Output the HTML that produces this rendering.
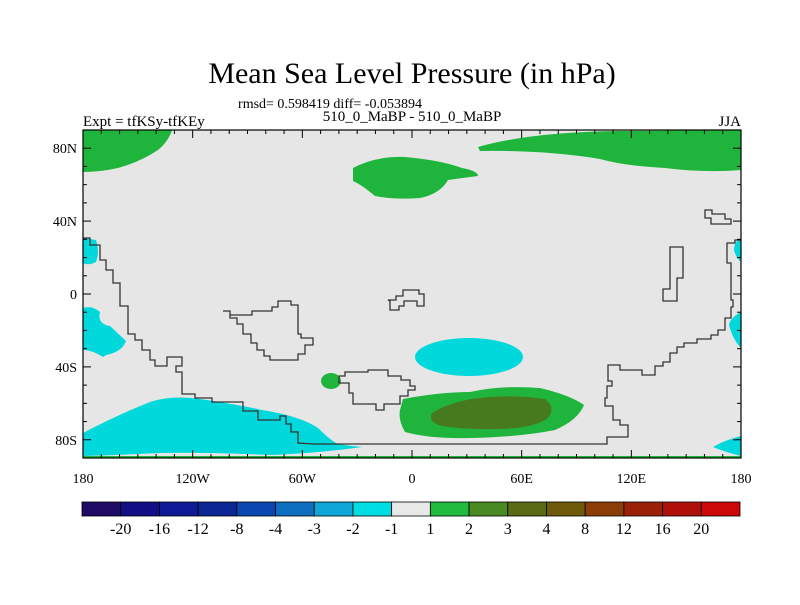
<!DOCTYPE html>
<html><head><meta charset="utf-8">
<style>
body{margin:0;background:#fff;}
svg text{font-family:"Liberation Serif",serif;fill:#000;}
</style></head>
<body>
<svg id="chart" width="800" height="600" viewBox="0 0 800 600">
<text x="412" y="83" font-size="30" text-anchor="middle">Mean Sea Level Pressure (in hPa)</text>
<text x="330" y="108" font-size="14" text-anchor="middle">rmsd= 0.598419 diff= -0.053894</text>
<text x="83" y="126" font-size="15">Expt = tfKSy-tfKEy</text>
<text x="412" y="121" font-size="15" text-anchor="middle">510_0_MaBP - 510_0_MaBP</text>
<text x="741" y="126" font-size="15" text-anchor="end">JJA</text>
<defs><clipPath id="pc"><rect x="83" y="130" width="658" height="328"/></clipPath></defs>
<g clip-path="url(#pc)">
<rect x="83" y="130" width="658" height="328" fill="#e6e6e6"/>
<g fill="#00d8dc">
<path d="M83,238 L96,240 Q100,252 96,262 Q88,266 83,263 Z"/>
<path d="M83,308 Q92,305 100,312 Q97,324 110,326 L126,341 Q122,352 106,355 L103,357 Q92,350 83,350 Z"/>
<path d="M83,433 Q115,416 150,402 Q172,395 200,399 Q240,405 262,410 Q300,416 318,428 Q330,440 338,444 Q350,446 362,447 Q320,453 270,455 Q200,452 160,453 Q120,455 83,456 Z"/>
<ellipse cx="469" cy="357" rx="54" ry="19"/>
<path d="M741,238 Q734,242 734,250 Q736,258 741,262 Z"/>
<path d="M741,312 Q730,318 729,325 Q733,340 741,348 Z"/>
<path d="M741,436 Q725,440 713,447 Q725,452 741,456 Z"/>
</g>
<g fill="#1fb53c">
<path d="M83,130 L172,130 Q168,142 158,150 Q140,162 118,168 Q100,172 83,172 Z"/>
<path d="M353,168 Q375,156 405,157 Q440,160 462,168 Q478,171 478,176 Q462,178 448,180 Q440,194 420,198 Q395,200 375,196 Q362,185 353,181 Z"/>
<path d="M478,147 Q530,132 620,131 L741,130 L741,170 Q705,173 665,168 Q625,166 600,159 Q545,150 480,151 Z"/>
<ellipse cx="331" cy="381" rx="10" ry="8"/>
<path d="M403,399 Q440,392 470,392 Q500,385 540,388 Q570,395 584,405 Q578,420 555,430 Q520,437 470,438 Q430,439 405,432 Q398,420 400,410 Z"/>
</g>
<path d="M432,413 Q455,399 490,397 Q520,395 545,399 Q556,407 548,418 Q535,428 500,429 Q460,430 438,425 Q428,420 432,413 Z" fill="#477a1e"/>
<rect x="83" y="456" width="658" height="2" fill="#1fb53c"/>
<g fill="none" stroke="#333" stroke-width="1.3">
<path d="M83,238 L90,238 L90,245 L100,245 L100,260 L106,260 L106,270 L113,270 L113,283 L120,283 L120,306 L128,306 L128,334 L135,334 L135,340 L142,340 L142,350 L150,350 L150,360 L155,360 L155,366 L167,366 L167,357 L182,357 L182,366 L176,366 L176,372 L182,372 L182,394 L195,394 L195,398 L212,398 L212,402 L243,402 L243,411 L258,411 L258,420 L280,420 L280,416 L286,416 L286,424 L291,424 L291,432 L298,432 L298,443 L313,444 L607,444 L607,437 L628,437 L628,425 L620,425 L620,420 L613,420 L613,406 L605,406 L605,398 L607,398 L607,386 L612,386 L612,381 L608,381 L608,365 L620,365 L620,370 L642,370 L642,375 L655,375 L655,366 L663,366 L663,362 L670,362 L670,353 L677,353 L677,347 L684,347 L684,343 L697,343 L697,339 L711,339 L711,335 L718,335 L718,330 L725,330 L725,318 L731,318 L731,307 L733,307 L733,300 L731,300 L731,263 L727,263 L727,243 L735,243 L735,240 L741,240"/>
<path d="M223,311 L230,311 L230,318 L237,318 L237,324 L243,324 L243,334 L251,334 L251,343 L257,343 L257,350 L264,350 L264,356 L270,356 L270,360 L298,360 L298,354 L305,354 L305,345 L313,345 L313,338 L301,338 L301,334 L298,334 L298,305 L291,305 L291,301 L278,301 L278,307 L272,307 L272,311 L252,311 L252,315 L230,315 L230,311 Z"/>
<path d="M339,383 L339,376 L345,376 L345,372 L368,372 L368,370 L388,370 L388,376 L401,376 L401,380 L410,380 L410,386 L415,386 L415,390 L408,390 L408,396 L400,396 L400,404 L384,404 L384,410 L376,410 L376,404 L353,404 L353,393 L349,393 L349,383 Z"/>
<path d="M388,300 L396,300 L396,296 L403,296 L403,290 L419,290 L419,294 L424,294 L424,306 L417,306 L417,301 L404,301 L404,306 L399,306 L399,310 L390,310 L390,301 Z"/>
<path d="M705,210 L712,210 L712,214 L725,214 L725,219 L731,219 L731,224 L711,224 L711,218 L705,218 Z"/>
<path d="M670,247 L683,247 L683,278 L677,278 L677,301 L663,301 L663,289 L670,289 Z"/>
</g>
<g id="yticks" stroke="#000" stroke-width="1"></g>
</g>
<g id="axes"></g>
<g id="colorbar"></g>
</svg>
<script>
const xTickLabels=["180","120W","60W","0","60E","120E","180"];
const xTickLons=[-180,-120,-60,0,60,120,180];
const yTickLabels=["80N","40N","0","40S","80S"];
const yTickLats=[80,40,0,-40,-80];
const cbLabels=["-20","-16","-12","-8","-4","-3","-2","-1","1","2","3","4","8","12","16","20"];
const cbColors=["#1f0a66","#120f84","#0e1a96","#0a2794","#0b47b0","#0e6fc0","#0ea6d6","#00dde2","#e8e8e8","#1fbb3e","#498a22","#5b6a14","#6e5a08","#8a3e06","#9a2008","#b0100a","#cc0808"];
const L=83,R=741,T=130,B=458;
const NS="http://www.w3.org/2000/svg";
function xs(lon){return L+(lon+180)/360*(R-L);}
function ys(lat){return T+(90-lat)/180*(B-T);}
function mk(tag,attrs,parent){const e=document.createElementNS(NS,tag);for(const k in attrs)e.setAttribute(k,attrs[k]);parent.appendChild(e);return e;}
const ax=document.getElementById('axes');
const frame=mk('rect',{x:L,y:T,width:R-L,height:B-T,fill:'none',stroke:'#000','stroke-width':1.2},ax);


for(let lon=-180;lon<=180;lon+=10){
  const big=lon%60===0, len=big?8:4, x=xs(lon);
  const t1=mk('line',{x1:x,x2:x,y1:B,y2:B-len,stroke:'#000'},ax);
  
  
  const t2=mk('line',{x1:x,x2:x,y1:T,y2:T+len,stroke:'#000'},ax);
  
  
}
for(let lat=-90;lat<=90;lat+=10){
  const big=lat%40===0, len=big?8:4, y=ys(lat);
  const t1=mk('line',{x1:L,x2:L+len,y1:y,y2:y,stroke:'#000'},ax);
  
  
  const t2=mk('line',{x1:R,x2:R-len,y1:y,y2:y,stroke:'#000'},ax);
  
  
}
xTickLabels.forEach((s,i)=>{
  const t=mk('text',{x:xs(xTickLons[i]),y:483,'font-size':14,'text-anchor':'middle'},ax);
  t.textContent=s;
  
  
});
yTickLabels.forEach((s,i)=>{
  const t=mk('text',{x:L-6,y:ys(yTickLats[i])+5,'font-size':14,'text-anchor':'end'},ax);
  t.textContent=s;
  
  
});
const cb=document.getElementById('colorbar');
const cbL=82,cbR=740,cbT=502,cbH=14,w=(cbR-cbL)/cbColors.length;
cbColors.forEach((c,i)=>{
  const r=mk('rect',{x:cbL+i*w,y:cbT,width:w,height:cbH,fill:c,stroke:'#000','stroke-width':0.8},cb);
  
  
});
cbLabels.forEach((s,i)=>{
  const t=mk('text',{x:cbL+(i+1)*w,y:534,'font-size':16,'text-anchor':'middle'},cb);
  t.textContent=s;
  
  
});
</script>
</body></html>
